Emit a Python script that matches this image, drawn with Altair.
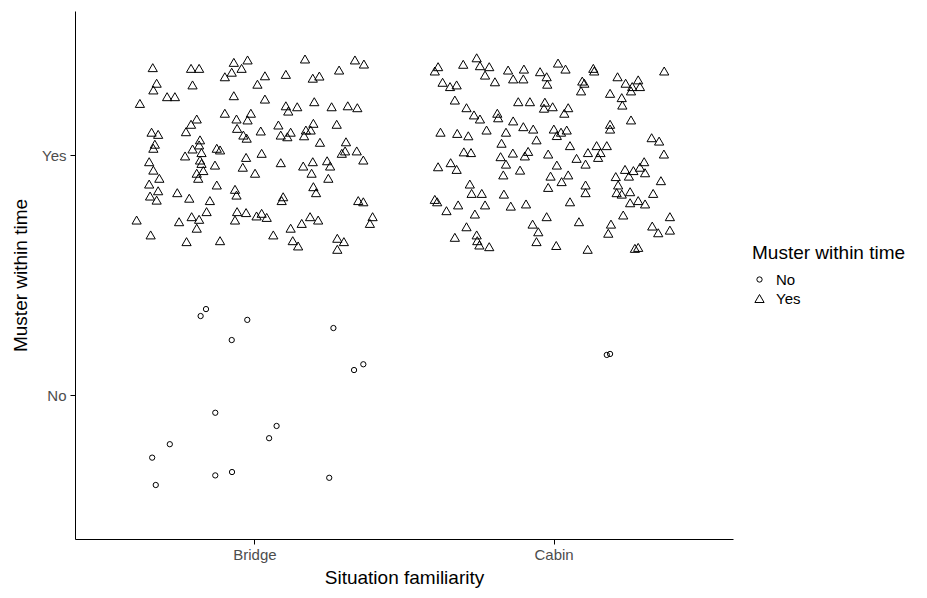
import altair as alt
import pandas as pd

situations = ["Bridge", "Cabin"]
muster_levels = ["No", "Yes"]

# jitter offsets (category units)
bridge_yes_dx = [-0.340,-0.212,-0.185,-0.069,-0.023,-0.043,-0.076,-0.099,-0.327,-0.338,
                 -0.207,-0.292,-0.266,-0.383,-0.069,0.010,-0.099,-0.060,-0.012,-0.023,
                 -0.193,-0.212,-0.229,-0.344,-0.322,-0.058,-0.037,-0.026,-0.333,-0.338,
                 -0.182,-0.185,-0.207,-0.126,-0.115,0.169,0.336,0.366,0.035,0.105,
                 0.195,0.217,0.283,0.035,0.105,0.113,0.143,0.200,0.258,0.312,
                 0.344,0.021,0.080,0.088,0.110,0.121,0.172,0.166,0.188,0.197,
                 0.275,0.219,0.306,0.024,0.303,0.342,0.292,-0.352,-0.232,-0.177,
                 -0.182,-0.177,-0.132,-0.028,-0.039,0.002,-0.338,-0.318,-0.193,-0.171,
                 -0.188,-0.352,-0.322,-0.349,-0.327,-0.258,-0.218,-0.126,-0.149,-0.065,
                 -0.060,-0.160,-0.210,-0.185,-0.252,-0.193,-0.058,-0.028,-0.065,0.007,
                 -0.394,-0.347,-0.227,-0.115,0.088,0.163,0.195,0.243,0.253,0.191,
                 0.247,0.364,0.197,0.206,0.096,0.091,0.347,0.364,0.024,0.041,
                 0.186,0.213,0.158,0.121,0.395,0.386,0.063,0.128,0.146,0.277,
                 0.299,0.277]
bridge_yes_dy = [0.364,0.361,0.361,0.386,0.396,0.361,0.345,0.326,0.299,0.271,
                 0.292,0.243,0.243,0.215,0.247,0.295,0.174,0.150,0.174,0.146,
                 0.150,0.128,0.097,0.095,0.086,0.111,0.083,0.070,0.045,0.028,
                 0.063,0.042,0.025,0.028,0.021,0.400,0.396,0.379,0.330,0.336,
                 0.320,0.329,0.354,0.233,0.205,0.183,0.201,0.222,0.201,0.205,
                 0.197,0.100,0.125,0.083,0.076,0.095,0.104,0.080,0.104,0.132,
                 0.128,0.053,0.055,0.007,0.017,0.017,0.007,-0.028,-0.004,0.010,
                 -0.021,-0.035,-0.042,-0.010,-0.051,-0.076,-0.063,-0.097,-0.076,-0.065,
                 -0.097,-0.121,-0.149,-0.171,-0.188,-0.157,-0.180,-0.125,-0.190,-0.143,
                 -0.167,-0.236,-0.257,-0.268,-0.278,-0.305,-0.236,-0.240,-0.271,-0.254,
                 -0.271,-0.333,-0.361,-0.357,-0.032,-0.046,-0.028,-0.024,-0.046,-0.076,
                 -0.097,-0.021,-0.132,-0.157,-0.174,-0.190,-0.190,-0.195,-0.243,-0.260,
                 -0.257,-0.271,-0.285,-0.305,-0.257,-0.285,-0.333,-0.357,-0.379,-0.347,
                 -0.361,-0.393]

bridge_no_dx = [-0.162,-0.180,-0.024,-0.076,0.264,0.333,0.364,-0.131,
                0.074,0.049,-0.283,-0.342,-0.131,-0.075,0.250,-0.330]
bridge_no_dy = [0.358,0.329,0.313,0.229,0.279,0.104,0.128,-0.074,
                -0.129,-0.180,-0.205,-0.261,-0.335,-0.321,-0.345,-0.375]

cabin_yes_dx = [-0.386,-0.397,-0.302,-0.257,-0.246,-0.215,-0.229,-0.196,-0.152,-0.099,
                -0.135,-0.101,-0.045,-0.023,-0.021,0.015,-0.371,-0.346,-0.324,-0.330,
                -0.291,-0.266,-0.246,-0.188,-0.185,-0.118,-0.079,-0.029,-0.032,-0.003,
                -0.135,-0.101,-0.068,-0.378,-0.322,-0.285,-0.224,-0.159,-0.057,0.001,
                0.011,-0.174,-0.300,-0.276,-0.136,-0.085,-0.018,0.040,0.133,0.136,
                0.096,0.103,0.092,0.214,0.241,0.283,0.289,0.263,0.259,0.189,
                0.228,0.230,0.370,0.049,0.036,0.259,0.189,0.189,0.044,0.025,
                0.328,0.353,0.055,0.144,0.178,0.115,0.157,0.369,-0.386,-0.344,
                -0.324,-0.177,-0.159,-0.096,0.011,-0.168,-0.112,-0.010,-0.018,-0.280,
                -0.274,-0.240,-0.166,-0.397,-0.389,-0.319,-0.358,-0.263,-0.229,-0.143,
                -0.092,-0.023,-0.070,-0.051,-0.057,0.009,-0.291,-0.330,-0.257,-0.255,
                -0.248,-0.215,0.149,0.077,0.107,0.049,0.027,0.107,0.107,0.055,
                0.208,0.239,0.267,0.252,0.289,0.303,0.306,0.359,0.216,0.211,
                0.228,0.256,0.256,0.283,0.306,0.333,0.233,0.192,0.183,0.085,
                0.389,0.330,0.350,0.389,0.114,0.272,0.283]
cabin_yes_dy = [0.368,0.350,0.378,0.405,0.372,0.368,0.333,0.305,0.354,0.358,
                0.317,0.317,0.347,0.326,0.295,0.383,0.303,0.285,0.292,0.229,
                0.197,0.167,0.150,0.174,0.155,0.222,0.222,0.220,0.195,0.201,
                0.142,0.118,0.108,0.095,0.090,0.080,0.104,0.095,0.063,0.108,
                0.081,0.049,0.013,0.010,0.008,0.015,0.004,0.358,0.361,0.350,
                0.308,0.299,0.267,0.326,0.299,0.313,0.285,0.285,0.267,0.257,
                0.239,0.208,0.350,0.197,0.174,0.146,0.128,0.108,0.104,0.095,
                0.072,0.058,0.039,0.039,0.039,0.010,0.010,0.004,-0.049,-0.032,
                -0.060,-0.007,-0.038,-0.004,-0.042,-0.083,-0.063,-0.088,-0.135,-0.121,
                -0.160,-0.160,-0.163,-0.185,-0.195,-0.208,-0.232,-0.246,-0.208,-0.213,
                -0.204,-0.257,-0.288,-0.320,-0.361,-0.377,-0.299,-0.343,-0.333,-0.357,
                -0.375,-0.382,-0.010,-0.014,-0.038,-0.083,-0.111,-0.125,-0.157,-0.195,
                -0.090,-0.060,-0.065,-0.088,-0.051,-0.028,-0.074,-0.107,-0.125,-0.157,
                -0.163,-0.153,-0.199,-0.190,-0.204,-0.160,-0.250,-0.288,-0.326,-0.278,
                -0.257,-0.296,-0.324,-0.313,-0.393,-0.389,-0.385]

cabin_no_dx = [0.178, 0.189]
cabin_no_dy = [0.167, 0.171]

groups = [
    ("Bridge", "Yes", bridge_yes_dx, bridge_yes_dy),
    ("Bridge", "No", bridge_no_dx, bridge_no_dy),
    ("Cabin", "Yes", cabin_yes_dx, cabin_yes_dy),
    ("Cabin", "No", cabin_no_dx, cabin_no_dy),
]
rows = []
for sit, mus, dxs, dys in groups:
    xi = situations.index(sit) + 1
    yi = muster_levels.index(mus) + 1
    for dx, dy in zip(dxs, dys):
        rows.append({"Situation": sit, "Muster within time": mus,
                     "x": xi + dx, "y": yi + dy})
df = pd.DataFrame(rows)

font = "Liberation Sans"
xlabel_expr = "datum.value == 1 ? 'Bridge' : datum.value == 2 ? 'Cabin' : ''"
ylabel_expr = "datum.value == 1 ? 'No' : datum.value == 2 ? 'Yes' : ''"

chart = alt.Chart(df).mark_point(filled=False, stroke="black", strokeWidth=1, opacity=1).encode(
    x=alt.X("x:Q", scale=alt.Scale(domain=[0.4, 2.6], nice=False, zero=False),
            axis=alt.Axis(title="Situation familiarity", values=[1, 2], labelExpr=xlabel_expr,
                          grid=False, domainColor="black", tickColor="black", tickSize=5,
                          labelColor="#4d4d4d", labelFontSize=15, labelFont=font,
                          labelPadding=3, titleFont=font, titleFontSize=19,
                          titleFontWeight="normal", titleColor="black", titleY=38,
                          titleBaseline="middle")),
    y=alt.Y("y:Q", scale=alt.Scale(domain=[0.4, 2.6], nice=False, zero=False),
            axis=alt.Axis(title="Muster within time", values=[1, 2], labelExpr=ylabel_expr,
                          grid=False, domainColor="black", tickColor="black", tickSize=5,
                          labelColor="#4d4d4d", labelFontSize=15, labelFont=font,
                          labelPadding=4, titleFont=font, titleFontSize=19,
                          titleFontWeight="normal", titleColor="black", titleX=-55,
                          titleY=264, titleBaseline="middle", titleAngle=270)),
    shape=alt.Shape("Muster within time:N",
                    scale=alt.Scale(domain=muster_levels, range=["circle", "triangle-up"]),
                    legend=alt.Legend(title="Muster within time", orient="none",
                                      legendX=677, legendY=233, titleFont=font,
                                      titleFontSize=19, titleFontWeight="normal",
                                      titleColor="black", titlePadding=9,
                                      labelFont=font, labelFontSize=15,
                                      labelColor="black", labelOffset=9,
                                      symbolStrokeColor="black",
                                      symbolStrokeWidth=1, rowPadding=3)),
    size=alt.Size("Muster within time:N",
                  scale=alt.Scale(domain=muster_levels, range=[28, 85]),
                  legend=alt.Legend(title="Muster within time", orient="none",
                                    legendX=677, legendY=233)),
).properties(
    width=658, height=528,
    autosize=alt.AutoSizeParams(type="none"),
    padding={"left": 67, "top": 3, "right": 180, "bottom": 50},
).configure_view(stroke=None).configure_axis(domainWidth=1, tickWidth=1)

chart.save("out.html", embed_options={"renderer": "svg", "actions": False})
